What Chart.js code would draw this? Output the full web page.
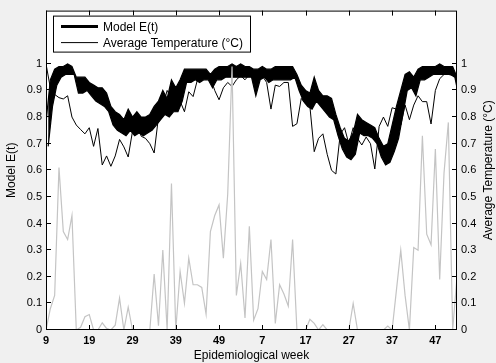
<!DOCTYPE html>
<html>
<head>
<meta charset="utf-8">
<script src="https://cdn.jsdelivr.net/npm/chart.js@4.4.0/dist/chart.umd.min.js"></script>
<style>
  html, body { margin: 0; padding: 0; background: #f0f0f0; }
  #wrap { width: 496px; height: 363px; }
</style>
</head>
<body>
<div id="wrap"><canvas id="chart" width="496" height="363"></canvas></div>
<script>
// x tick labels (epidemiological weeks, every 10 weeks, two seasons)
const weekTicks = ['9', '19', '29', '39', '49', '7', '17', '27', '37', '47'];

// Model E(t): upper / lower edge of the oscillating band, one pair per week
const eHigh = [
  0.78, 0.94, 0.98, 0.99, 0.99, 1.00, 0.99, 0.95, 0.95, 0.95,
  0.93, 0.92, 0.91, 0.91, 0.89, 0.84, 0.82, 0.81, 0.79, 0.83,
  0.80, 0.82, 0.80, 0.80, 0.81, 0.84, 0.86, 0.90, 0.87, 0.94,
  0.91, 0.94, 0.98, 0.98, 0.98, 0.98, 0.98, 0.98, 0.96, 0.98,
  0.99, 0.99, 0.99, 1.00, 0.99, 1.00, 0.99, 0.99, 0.98, 0.98,
  0.99, 0.98, 0.98, 0.99, 0.99, 0.99, 0.99, 0.99, 0.96, 0.92,
  0.90, 0.89, 0.95, 0.90, 0.88, 0.88, 0.87, 0.81, 0.76, 0.72,
  0.71, 0.74, 0.81, 0.79, 0.78, 0.77, 0.76, 0.72, 0.69, 0.70,
  0.77, 0.84, 0.90, 0.96, 0.97, 0.95, 0.98, 0.99, 0.99, 0.99,
  0.99, 1.00, 0.99, 0.99, 0.99, 0.95
];
const eLow = [
  0.69, 0.84, 0.92, 0.95, 0.96, 0.96, 0.96, 0.89, 0.89, 0.90,
  0.88, 0.86, 0.85, 0.84, 0.82, 0.77, 0.75, 0.74, 0.73, 0.75,
  0.73, 0.74, 0.73, 0.74, 0.75, 0.77, 0.79, 0.81, 0.80, 0.82,
  0.82, 0.86, 0.93, 0.93, 0.94, 0.93, 0.94, 0.94, 0.91, 0.94,
  0.94, 0.95, 0.95, 0.95, 0.95, 0.95, 0.95, 0.95, 0.88, 0.94,
  0.95, 0.93, 0.94, 0.94, 0.94, 0.94, 0.94, 0.95, 0.90, 0.86,
  0.84, 0.83, 0.86, 0.84, 0.82, 0.80, 0.79, 0.73, 0.68, 0.65,
  0.64, 0.66, 0.74, 0.73, 0.73, 0.72, 0.70, 0.65, 0.62, 0.63,
  0.67, 0.72, 0.81, 0.90, 0.91, 0.88, 0.94, 0.94, 0.95, 0.96,
  0.96, 0.96, 0.96, 0.96, 0.95, 0.87
];

// Average temperature (normalised), weekly
const avgTemp = [
  1.00, 0.91, 0.885, 0.873, 0.868, 0.88, 0.80, 0.77, 0.753, 0.737,
  0.76, 0.69, 0.757, 0.62, 0.654, 0.615, 0.654, 0.716, 0.688, 0.65,
  0.747, 0.784, 0.728, 0.72, 0.70, 0.665, 0.80, 0.84, 0.90, 0.87,
  0.90, 0.86, 0.82, 0.895, 0.877, 0.94, 0.96, 0.96, 0.95, 0.90,
  0.865, 0.91, 0.93, 0.915, 0.94, 0.955, 0.94, 0.96, 0.965, 0.95,
  0.955, 0.93, 0.83, 0.92, 0.915, 0.93, 0.93, 0.765, 0.775, 0.87,
  0.85, 0.84, 0.67, 0.72, 0.737, 0.66, 0.60, 0.586, 0.735, 0.76,
  0.70, 0.76, 0.72, 0.695, 0.725, 0.70, 0.605, 0.765, 0.80, 0.765,
  0.835, 0.83, 0.77, 0.845, 0.79, 0.845, 0.88, 0.858, 0.858, 0.774,
  0.90, 0.944, 0.96, 0.96, 0.957, 0.96
];

// grey series (not in legend), weekly
const greySeries = [
  0, 0.08, 0.13, 0.61, 0.37, 0.34, 0.43, 0, 0.01, 0.05,
  0.058, 0, 0, 0.027, 0.006, 0, 0.018, 0.12, 0, 0.086,
  0, 0, 0, 0, 0, 0.21, 0.016, 0.30, 0, 0.55,
  0, 0.22, 0.10, 0.27, 0.17, 0.17, 0.16, 0.06, 0.37, 0.43,
  0.47, 0.27, 0.51, 0.99, 0.13, 0.25, 0.045, 0.39, 0.037, 0.08,
  0.22, 0.19, 0.34, 0.025, 0.17, 0.135, 0.09, 0.34, 0, 0,
  0, 0.04, 0.025, 0, 0.02, 0, 0, 0, 0, 0,
  0, 0.10, 0, 0, 0, 0, 0, 0, 0, 0.015,
  0, 0.15, 0.30, 0.13, 0, 0.31, 0.30, 0.73, 0.36, 0.32,
  0.68, 0.19, 0.59, 0.78, 0, 0.2
];

// build point lists for the linear x scale
const toPoints = (arr, shift) => arr.map((v, i) => ({ x: i + shift, y: v }));

const FONT = "'Liberation Sans', Arial, sans-serif";

const bgPlugin = {
  id: 'bg',
  beforeDraw(chart) {
    const { ctx, chartArea: a } = chart;
    ctx.save();
    ctx.fillStyle = '#f0f0f0';
    ctx.fillRect(0, 0, chart.width, chart.height);
    ctx.fillStyle = '#ffffff';
    ctx.fillRect(a.left, a.top, a.right - a.left, a.bottom - a.top);
    ctx.restore();
  }
};

const framePlugin = {
  id: 'frame',
  afterDraw(chart) {
    const { ctx, chartArea: a, scales } = chart;
    ctx.save();
    ctx.strokeStyle = '#000';
    ctx.lineWidth = 1;
    ctx.strokeRect(a.left + 0.5, a.top + 0.5, a.right - a.left - 1, a.bottom - a.top - 1);

    // inward tick marks
    ctx.beginPath();
    scales.x.ticks.forEach(t => {
      const px = Math.round(scales.x.getPixelForValue(t.value)) + 0.5;
      ctx.moveTo(px, a.bottom); ctx.lineTo(px, a.bottom - 5);
      ctx.moveTo(px, a.top); ctx.lineTo(px, a.top + 5);
    });
    scales.y.ticks.forEach(t => {
      const py = Math.round(scales.y.getPixelForValue(t.value)) - 0.5;
      ctx.moveTo(a.left, py); ctx.lineTo(a.left + 5, py);
    });
    scales.y1.ticks.forEach(t => {
      const py = Math.round(scales.y1.getPixelForValue(t.value)) - 0.5;
      ctx.moveTo(a.right, py); ctx.lineTo(a.right - 5, py);
    });
    ctx.stroke();

    // legend box
    const lx = a.left + 7, ly = a.top + 5, lw = 197, lh = 36;
    ctx.fillStyle = '#fff';
    ctx.fillRect(lx, ly, lw, lh);
    ctx.strokeRect(lx + 0.5, ly + 0.5, lw, lh);
    const rows = [
      { label: 'Model E(t)', width: 3, y: ly + 11 },
      { label: chart.data.datasets[2].label, width: 1, y: ly + 27 }
    ];
    ctx.font = '12px ' + FONT;
    ctx.textBaseline = 'middle';
    ctx.textAlign = 'left';
    rows.forEach(r => {
      ctx.beginPath();
      ctx.lineWidth = r.width;
      ctx.moveTo(lx + 8, r.y); ctx.lineTo(lx + 45, r.y);
      ctx.stroke();
      ctx.fillStyle = '#000';
      ctx.fillText(r.label, lx + 50, r.y + 1);
    });

    // right axis title, reading bottom to top
    ctx.translate(489, (a.top + a.bottom) / 2);
    ctx.rotate(-Math.PI / 2);
    ctx.textAlign = 'center';
    ctx.font = '12px ' + FONT;
    ctx.fillText('Average Temperature (°C)', 0, 0);
    ctx.restore();
  }
};

const yTickFmt = v => Number(v.toFixed(1)).toString();
const keepToOne = scale => { scale.ticks = scale.ticks.filter(t => t.value <= 1.0001); };

new Chart(document.getElementById('chart').getContext('2d'), {
  type: 'line',
  data: {
    datasets: [
      {
        label: 'Model E(t)',
        data: toPoints(eHigh, 0),
        borderColor: '#000',
        borderWidth: 1.2,
        pointRadius: 0,
        tension: 0,
        fill: false,
        yAxisID: 'y',
        order: 3
      },
      {
        label: 'Model E(t) lower',
        data: toPoints(eLow, 0.5),
        borderColor: '#000',
        backgroundColor: '#000',
        borderWidth: 1.2,
        pointRadius: 0,
        tension: 0,
        fill: 0,
        yAxisID: 'y',
        order: 2
      },
      {
        label: 'Average Temperature (°C)',
        data: toPoints(avgTemp, 0),
        borderColor: '#000',
        borderWidth: 1,
        pointRadius: 0,
        tension: 0,
        yAxisID: 'y1',
        order: 1
      },
      {
        label: '',
        data: toPoints(greySeries, 0),
        borderColor: '#c4c4c4',
        borderWidth: 1.2,
        pointRadius: 0,
        tension: 0,
        yAxisID: 'y1',
        order: 0
      }
    ]
  },
  options: {
    responsive: false,
    animation: false,
    devicePixelRatio: 1,
    layout: { padding: { top: 6, left: 0, right: 0, bottom: 0 } },
    plugins: {
      legend: { display: false },
      tooltip: { enabled: false }
    },
    scales: {
      x: {
        type: 'linear',
        min: 0,
        max: 95,
        grid: { display: false, drawTicks: false },
        border: { display: false },
        afterBuildTicks: scale => { scale.ticks = weekTicks.map((_, i) => ({ value: i * 10 })); },
        afterFit: scale => { scale.height = 33; },
        ticks: {
          padding: 4,
          maxRotation: 0,
          autoSkip: false,
          color: '#000',
          font: { family: FONT, size: 11, weight: 'bold' },
          callback: v => weekTicks[Math.round(v / 10)]
        },
        title: {
          display: true,
          text: 'Epidemiological week',
          color: '#000',
          padding: { top: 0, bottom: 0 },
          font: { family: FONT, size: 12 }
        }
      },
      y: {
        position: 'left',
        min: 0,
        max: 1.2,
        grid: { display: false, drawTicks: false },
        border: { display: false },
        afterBuildTicks: keepToOne,
        afterFit: scale => { scale.width = 46; },
        ticks: {
          stepSize: 0.1,
          padding: 4,
          color: '#000',
          font: { family: FONT, size: 11 },
          callback: yTickFmt
        },
        title: {
          display: true,
          text: 'Model E(t)',
          color: '#000',
          padding: { top: 4, bottom: 0 },
          font: { family: FONT, size: 12 }
        }
      },
      y1: {
        position: 'right',
        min: 0,
        max: 1.2,
        grid: { display: false, drawTicks: false },
        border: { display: false },
        afterBuildTicks: keepToOne,
        afterFit: scale => { scale.width = 39; },
        ticks: {
          stepSize: 0.1,
          padding: 4,
          color: '#000',
          font: { family: FONT, size: 11 },
          callback: yTickFmt
        }
      }
    }
  },
  plugins: [bgPlugin, framePlugin]
});
</script>
</body>
</html>
